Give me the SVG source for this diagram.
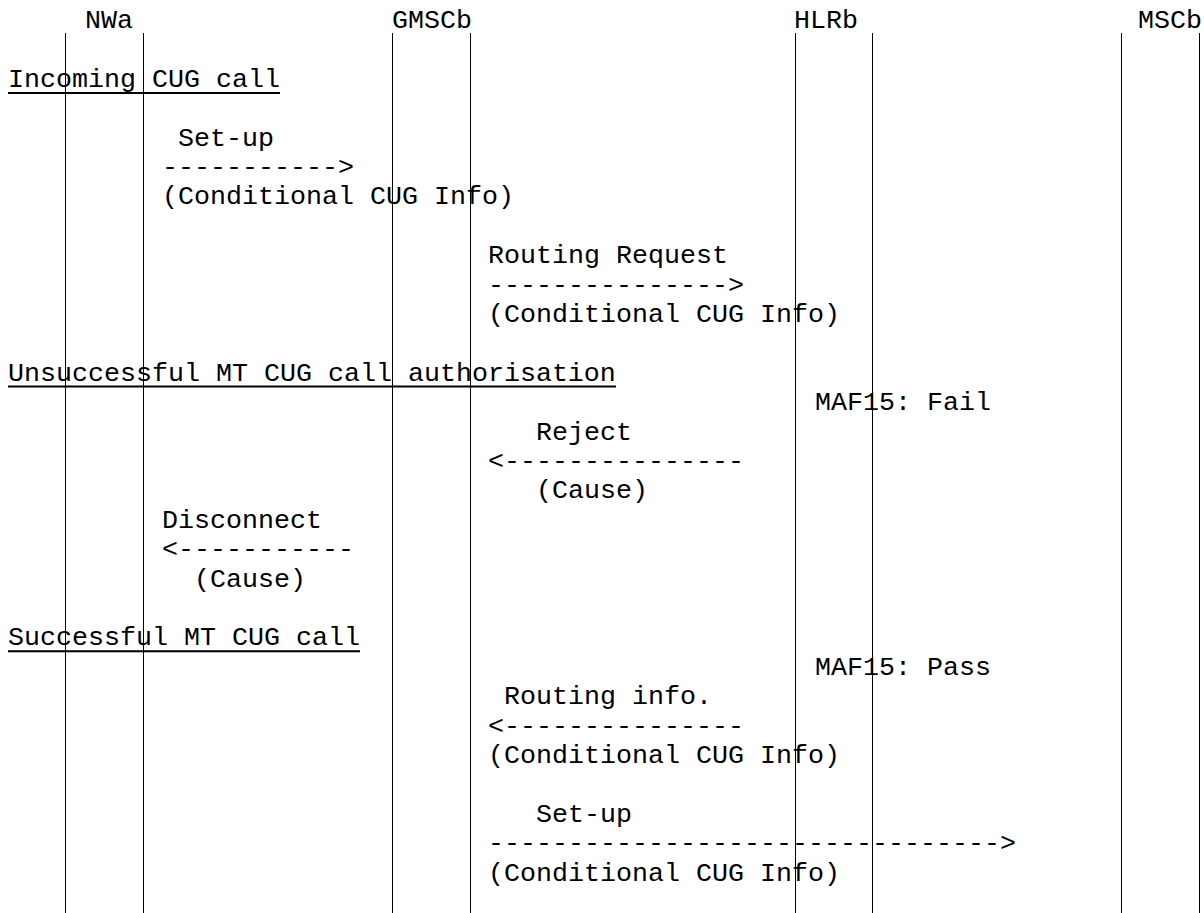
<svg xmlns="http://www.w3.org/2000/svg" width="1204" height="913" viewBox="0 0 1204 913">
<style>
text{font-family:"Liberation Mono","Courier New",monospace;font-size:26.67px;fill:#000}
.life{stroke:#000;stroke-width:1}
.ul{stroke:#000;stroke-width:2}
</style>
<rect width="1204" height="913" fill="#fff"/>
<g id="node-NWa">
<text x="85" y="28">NWa</text>
<line class="life" x1="65.5" y1="33" x2="65.5" y2="913"/>
<line class="life" x1="143.5" y1="33" x2="143.5" y2="913"/>
</g>
<g id="node-GMSCb">
<text x="392" y="28">GMSCb</text>
<line class="life" x1="392.5" y1="33" x2="392.5" y2="913"/>
<line class="life" x1="470.5" y1="33" x2="470.5" y2="913"/>
</g>
<g id="node-HLRb">
<text x="794" y="28">HLRb</text>
<line class="life" x1="795.5" y1="33" x2="795.5" y2="913"/>
<line class="life" x1="872.5" y1="33" x2="872.5" y2="913"/>
</g>
<g id="node-MSCb">
<text x="1138" y="28">MSCb</text>
<line class="life" x1="1121.5" y1="33" x2="1121.5" y2="913"/>
<line class="life" x1="1199.5" y1="33" x2="1199.5" y2="913"/>
</g>
<g id="headings">
<text x="8" y="86.8">Incoming CUG call</text>
<line class="ul" x1="8" y1="93" x2="280" y2="93"/>
<text x="8" y="380.8">Unsuccessful MT CUG call authorisation</text>
<line class="ul" x1="8" y1="386.5" x2="616" y2="386.5"/>
<text x="8" y="645.4">Successful MT CUG call</text>
<line class="ul" x1="8" y1="651.2" x2="360" y2="651.2"/>
</g>
<g id="notes">
<text x="815" y="410.2">MAF15: Fail</text>
<text x="815" y="674.8">MAF15: Pass</text>
</g>
<g id="connectors">
<g id="msg-setup-1">
<text x="178" y="145.6">Set-up</text>
<text x="162" y="175">-----------&gt;</text>
<text x="162" y="204.4">(Conditional CUG Info)</text>
</g>
<g id="msg-routing-request">
<text x="488" y="263.2">Routing Request</text>
<text x="488" y="292.6">---------------&gt;</text>
<text x="488" y="322">(Conditional CUG Info)</text>
</g>
<g id="msg-reject">
<text x="536" y="439.6">Reject</text>
<text x="488" y="469">&lt;---------------</text>
<text x="536" y="498.4">(Cause)</text>
</g>
<g id="msg-disconnect">
<text x="162" y="527.8">Disconnect</text>
<text x="162" y="557.2">&lt;-----------</text>
<text x="194" y="586.6">(Cause)</text>
</g>
<g id="msg-routing-info">
<text x="504" y="704.2">Routing info.</text>
<text x="488" y="733.6">&lt;---------------</text>
<text x="488" y="763">(Conditional CUG Info)</text>
</g>
<g id="msg-setup-2">
<text x="536" y="821.8">Set-up</text>
<text x="488" y="851.2">--------------------------------&gt;</text>
<text x="488" y="880.6">(Conditional CUG Info)</text>
</g>
</g>
</svg>
